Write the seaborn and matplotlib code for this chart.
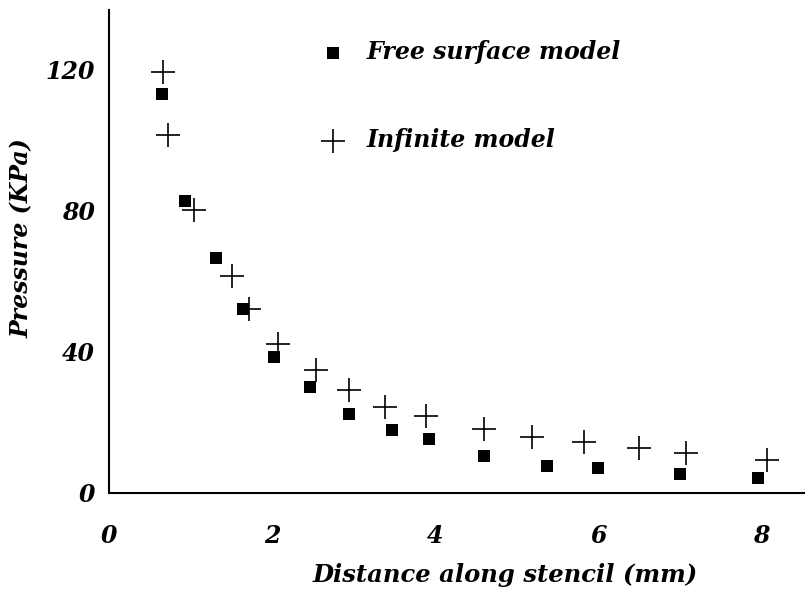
import matplotlib
matplotlib.use("Agg")
import matplotlib.pyplot as plt
import seaborn as sns
import pandas as pd

# Free surface model (filled squares)
free_x = [0.65, 0.94, 1.31, 1.65, 2.02, 2.47, 2.95, 3.47, 3.93, 4.60, 5.37, 5.99, 7.00, 7.96]
free_y = [113.1, 82.9, 66.5, 52.2, 38.5, 30.0, 22.3, 17.9, 15.2, 10.5, 7.7, 7.0, 5.4, 4.2]

# Infinite model (plus markers)
inf_x = [0.66, 0.73, 1.04, 1.51, 1.72, 2.08, 2.54, 2.95, 3.39, 3.89, 4.60, 5.19, 5.82, 6.50, 7.07, 8.07]
inf_y = [119.5, 101.6, 80.3, 61.4, 52.1, 42.3, 34.9, 29.2, 24.5, 21.7, 18.1, 15.8, 14.4, 12.8, 11.2, 9.4]

x_ticks = [0, 2, 4, 6, 8]
y_ticks = [0, 40, 80, 120]

sns.set_style("white")
plt.rcParams['font.family'] = ['DejaVu Serif']
plt.rcParams['text.color'] = 'black'
plt.rcParams['xtick.color'] = 'black'
plt.rcParams['ytick.color'] = 'black'
plt.rcParams['axes.labelcolor'] = 'black'

fig = plt.figure(figsize=(8.05, 5.98), dpi=100)
ax = fig.add_axes([0.135, 0.1756, 0.865, 0.808])

free_df = pd.DataFrame({"x": free_x, "y": free_y})
inf_df = pd.DataFrame({"x": inf_x, "y": inf_y})

sns.scatterplot(data=free_df, x="x", y="y", marker="s", s=75, color="black",
                edgecolor="black", linewidth=0, ax=ax, label="Free surface model")
sns.scatterplot(data=inf_df, x="x", y="y", marker="+", s=320, color="black",
                linewidth=1.2, ax=ax, label="Infinite model")

ax.set_xlim(0, 8.53)
ax.set_ylim(0, 137)
ax.set_xticks(x_ticks)
ax.set_yticks(y_ticks)
ax.set_xticklabels([str(v) for v in x_ticks])
ax.set_yticklabels([str(v) for v in y_ticks])

for s in ["top", "right"]:
    ax.spines[s].set_visible(False)
for s in ["left", "bottom"]:
    ax.spines[s].set_linewidth(1.5)
    ax.spines[s].set_color("black")

ax.tick_params(axis="x", direction="in", length=9, width=1.3, pad=22, labelsize=17,
               colors="black")
ax.tick_params(axis="y", direction="in", length=9, width=1.3, pad=10, labelsize=17,
               colors="black")
for lab in ax.get_xticklabels() + ax.get_yticklabels():
    lab.set_fontstyle("italic")
    lab.set_fontweight("bold")
ax.xaxis.get_major_ticks()[0].tick1line.set_visible(False)
ax.yaxis.get_major_ticks()[0].tick1line.set_visible(False)

ax.set_xlabel("Distance along stencil (mm)", fontsize=17.5, fontstyle="italic",
              fontweight="bold", color="black")
ax.set_ylabel("Pressure (KPa)", fontsize=17, fontstyle="italic", fontweight="bold",
              color="black")
ax.xaxis.label.set_va("center")
ax.yaxis.label.set_va("center")
ax.xaxis.set_label_coords(0.569, -0.17)
ax.yaxis.set_label_coords(-0.1246, 0.528)

leg = ax.legend(loc="upper left", bbox_to_anchor=(0.274, 0.957), frameon=False,
                labelspacing=2.7, handletextpad=0.45, borderaxespad=0,
                prop={"style": "italic", "weight": "bold", "size": 17})
for t in leg.get_texts():
    t.set_color("black")

ax.grid(False)
fig.savefig("out.png", dpi=100, facecolor="white")
